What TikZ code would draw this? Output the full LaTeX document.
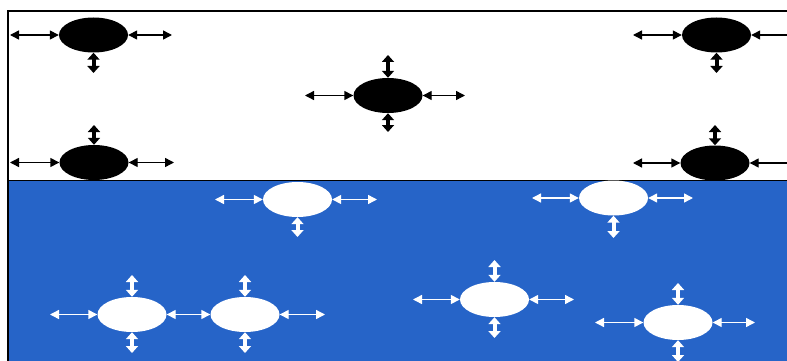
\documentclass[tikz,border=0pt]{standalone}
\usetikzlibrary{shapes.geometric,arrows.meta}
\definecolor{seablue}{RGB}{38,100,200}
\tikzset{
  blob/.style={ellipse, minimum width=69pt, minimum height=35pt, inner sep=0pt},
  blk/.style={blob, fill=black},
  wht/.style={blob, fill=white},
  harr/.style={{Triangle[length=9pt,width=9pt]}-{Triangle[length=9pt,width=9pt]}, line width=1.4pt},
  varr/.style={{Triangle[length=7pt,width=12pt]}-{Triangle[length=7pt,width=12pt]}, line width=4pt},
  frameline/.style={line width=1.4pt, black}
}
\begin{document}
\begin{tikzpicture}[x=1pt,y=-1pt]
\clip (0,0) rectangle (787,361);
\fill[white] (0,0) rectangle (787,361);
% water
\fill[seablue] (8,180.5) rectangle (790,365);
\draw[frameline] (8,365) -- (8,11) -- (790,11);
\draw[frameline] (8,180.5) -- (790,180.5);

% black particles (top)
\node[blk] (A) at (93.5,35) {};
\node[blk] (B) at (94,162.5) {};
\node[blk] (C) at (388,95.5) {};
\node[blk] (D) at (716.5,35) {};
\node[blk] (E) at (715,163) {};

\coordinate (Al) at (10,35);   \coordinate (Ar) at (172,35);  \coordinate (Ad) at (93.5,73);
\coordinate (Bl) at (10,162.5);\coordinate (Br) at (174,162.5);\coordinate (Bu) at (94,125);
\coordinate (Cl) at (305,95.5);\coordinate (Cr) at (465,95.5);\coordinate (Cu) at (388,55);\coordinate (Cd) at (388,132);
\coordinate (Dl) at (633,35);  \coordinate (Dr) at (797,35);  \coordinate (Dd) at (716.5,73);
\coordinate (El) at (633,163); \coordinate (Er) at (797,163); \coordinate (Eu) at (715,125);

\begin{scope}[black]
\draw[harr] (Al) -- (A.west); \draw[harr] (A.east) -- (Ar); \draw[varr] (A.south) -- (Ad);
\draw[harr] (Bl) -- (B.west); \draw[harr] (B.east) -- (Br); \draw[varr] (Bu) -- (B.north);
\draw[harr] (Cl) -- (C.west); \draw[harr] (C.east) -- (Cr); \draw[varr] (Cu) -- (C.north); \draw[varr] (C.south) -- (Cd);
\draw[harr] (Dl) -- (D.west); \draw[harr] (D.east) -- (Dr); \draw[varr] (D.south) -- (Dd);
\draw[harr] (El) -- (E.west); \draw[harr] (E.east) -- (Er); \draw[varr] (Eu) -- (E.north);
\end{scope}

% white particles (bottom)
\node[wht] (F) at (297.5,199.5) {};
\node[wht] (G) at (613.5,198) {};
\node[wht] (H) at (132,314.5) {};
\node[wht] (I) at (245,314.5) {};
\node[wht] (J) at (494.5,299.5) {};
\node[wht] (K) at (678,322.5) {};

\coordinate (Fl) at (215,199.5); \coordinate (Fr) at (377,199.5); \coordinate (Fd) at (297.5,237);
\coordinate (Gl) at (532,198);   \coordinate (Gr) at (693,198);   \coordinate (Gd) at (613.5,238);
\coordinate (Hl) at (50,314.5);  \coordinate (Hu) at (132,275);   \coordinate (Hd) at (132,353);
\coordinate (Ir) at (325,314.5); \coordinate (Iu) at (245,275);   \coordinate (Id) at (245,353);
\coordinate (Jl) at (413,299.5); \coordinate (Jr) at (574,299.5); \coordinate (Ju) at (494.5,260); \coordinate (Jd) at (494.5,338);
\coordinate (Kl) at (595,322.5); \coordinate (Kr) at (755,322.5); \coordinate (Ku) at (678,283);   \coordinate (Kd) at (678,362);

\begin{scope}[white]
\draw[harr,white] (Fl) -- (F.west); \draw[harr,white] (F.east) -- (Fr); \draw[varr,white] (F.south) -- (Fd);
\draw[harr,white] (Gl) -- (G.west); \draw[harr,white] (G.east) -- (Gr); \draw[varr,white] (G.south) -- (Gd);
\draw[harr,white] (Hl) -- (H.west); \draw[harr,white] (H.east) -- (I.west); \draw[varr,white] (Hu) -- (H.north); \draw[varr,white] (H.south) -- (Hd);
\draw[harr,white] (I.east) -- (Ir); \draw[varr,white] (Iu) -- (I.north); \draw[varr,white] (I.south) -- (Id);
\draw[harr,white] (Jl) -- (J.west); \draw[harr,white] (J.east) -- (Jr); \draw[varr,white] (Ju) -- (J.north); \draw[varr,white] (J.south) -- (Jd);
\draw[harr,white] (Kl) -- (K.west); \draw[harr,white] (K.east) -- (Kr); \draw[varr,white] (Ku) -- (K.north); \draw[varr,white] (K.south) -- (Kd);
\end{scope}
\end{tikzpicture}
\end{document}
